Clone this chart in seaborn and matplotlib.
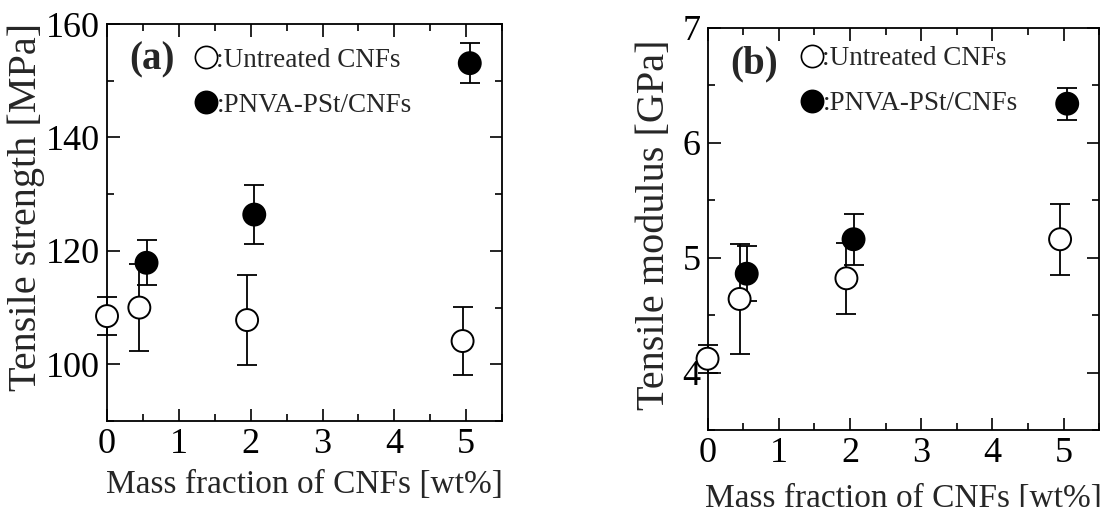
import numpy as np
import pandas as pd
import matplotlib
matplotlib.use("Agg")
import matplotlib.pyplot as plt
from matplotlib.ticker import MultipleLocator
import seaborn as sns

## Data
groups = ["Untreated CNFs", "PNVA-PSt/CNFs"]

# (a) tensile strength [MPa]
x_untreated_a = [0.0, 0.45, 1.95, 4.95]
y_untreated_a = [108.5, 110.0, 107.8, 104.1]
e_untreated_a = [3.3, 7.6, 8.0, 6.0]
x_pnva_a = [0.55, 2.05, 5.05]
y_pnva_a = [117.9, 126.4, 153.1]
e_pnva_a = [4.0, 5.2, 3.5]

# (b) tensile modulus [GPa]
x_untreated_b = [0.0, 0.45, 1.95, 4.95]
y_untreated_b = [4.12, 4.64, 4.82, 5.16]
e_untreated_b = [0.12, 0.48, 0.31, 0.31]
x_pnva_b = [0.55, 2.05, 5.05]
y_pnva_b = [4.86, 5.16, 6.34]
e_pnva_b = [0.24, 0.22, 0.14]

xticks = [0, 1, 2, 3, 4, 5]

sns.set_theme(style="ticks")
plt.rcParams["font.family"] = ["Liberation Serif", "DejaVu Serif"]


def make_df(xu, yu, eu, xp, yp, ep):
    d1 = pd.DataFrame({"x": xu, "y": yu, "err": eu, "group": groups[0]})
    d2 = pd.DataFrame({"x": xp, "y": yp, "err": ep, "group": groups[1]})
    return pd.concat([d1, d2], ignore_index=True)


df_a = make_df(x_untreated_a, y_untreated_a, e_untreated_a, x_pnva_a, y_pnva_a, e_pnva_a)
df_b = make_df(x_untreated_b, y_untreated_b, e_untreated_b, x_pnva_b, y_pnva_b, e_pnva_b)

fig = plt.figure(figsize=(11.16, 5.07), dpi=100)
fig.patch.set_facecolor("white")
ax_a = fig.add_axes([0.0959, 0.1696, 0.354, 0.783])
ax_b = fig.add_axes([0.634, 0.152, 0.351, 0.793])

palette = {groups[0]: "white", groups[1]: "black"}


def draw_panel(ax, df, ylim, ymajor, yminor, ylabel, ylab_xy, tag, tag_pos, leg_anchor, xlab_pad):
    # error bars first, markers on top
    for g in groups:
        sub = df[df["group"] == g]
        ax.errorbar(sub["x"], sub["y"], yerr=sub["err"], fmt="none",
                    ecolor="black", elinewidth=1.3, capsize=7, capthick=1.3,
                    clip_on=False, zorder=2)
    sns.scatterplot(data=df, x="x", y="y", hue="group", palette=palette,
                    s=250, edgecolor="black", linewidth=1.4, ax=ax,
                    clip_on=False, zorder=3, legend=True)

    ax.set_xlim(0, 5.5)
    ax.set_ylim(*ylim)
    ax.set_xticks(xticks)
    ax.xaxis.set_minor_locator(MultipleLocator(0.5))
    ax.yaxis.set_major_locator(MultipleLocator(ymajor))
    ax.yaxis.set_minor_locator(MultipleLocator(yminor))
    ax.tick_params(which="both", direction="in", top=True, right=True,
                   width=1.2, colors="black")
    ax.tick_params(which="major", length=9, labelsize=26, pad=5)
    ax.tick_params(which="minor", length=5)
    for sp in ax.spines.values():
        sp.set_linewidth(1.3)
        sp.set_color("black")

    ax.set_xlabel("Mass fraction of CNFs [wt%]", fontsize=24, labelpad=xlab_pad)
    ax.set_ylabel(ylabel, fontsize=29)
    ax.yaxis.set_label_coords(*ylab_xy)
    ax.yaxis.label.set_verticalalignment("center")

    handles, labels = ax.get_legend_handles_labels()
    for h in handles:
        h.set_markersize(16)
        h.set_markeredgewidth(1.2)
    ax.legend(handles, [":" + l for l in labels], loc="upper left",
              bbox_to_anchor=leg_anchor, frameon=False, fontsize=19.5,
              handlelength=0.8, handletextpad=0.0, labelspacing=0.73,
              borderpad=0, borderaxespad=0)
    ax.text(tag_pos[0], tag_pos[1], tag, transform=ax.transAxes, fontsize=28,
            fontweight="bold", ha="left", va="center")


draw_panel(ax_a, df_a, (90, 160), 20, 10, "Tensile strength [MPa]", (-0.205, 0.54), "(a)",
           (0.055, 0.91), (0.222, 0.94), 6)
draw_panel(ax_b, df_b, (3.5, 7), 1, 0.5, "Tensile modulus [GPa]", (-0.135, 0.51), "(b)",
           (0.058, 0.91), (0.238, 0.954), 10)

plt.savefig("out.png", dpi=100)
